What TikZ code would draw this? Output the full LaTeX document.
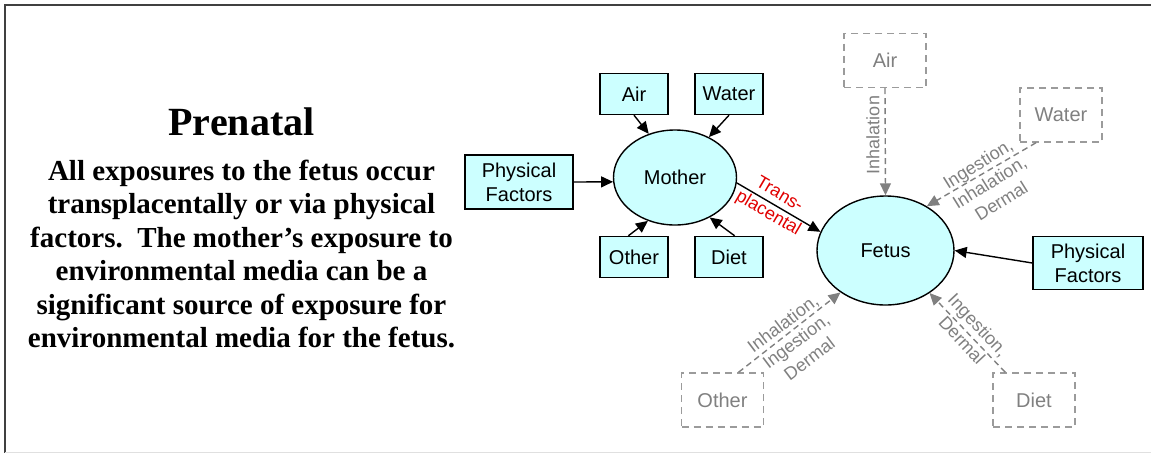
\documentclass[tikz,border=0pt]{standalone}
\usepackage{fontspec}
\setmainfont{Liberation Serif}
\newfontfamily\arialfont{Liberation Sans}
\usetikzlibrary{arrows.meta,shapes.geometric}
\definecolor{boxcyan}{RGB}{204,255,255}
\definecolor{dashgray}{RGB}{155,155,155}
\definecolor{labelgray}{RGB}{128,128,128}
\definecolor{placred}{RGB}{225,0,0}
\begin{document}
\begin{tikzpicture}
  [x=1pt,y=-1pt,line width=1.4pt,every node/.style={font=\arialfont\fontsize{20}{24}\selectfont}]
  \tikzstyle{media} = [draw,fill=boxcyan,minimum width=68pt,minimum height=41pt,inner sep=1pt,align=center]
  \tikzstyle{person} = [draw,ellipse,fill=boxcyan,inner sep=0pt]
  \tikzstyle{faded} = [draw=dashgray,text=labelgray,dash pattern=on 7pt off 5pt,minimum width=82pt,minimum height=54pt]
  \tikzstyle{route} = [text=labelgray,font=\arialfont\fontsize{18}{22}\selectfont,align=center,inner sep=0pt]
  \tikzstyle{feeds} = [-{Triangle[length=12pt,width=11pt]}]
  \tikzstyle{hint} = [draw=labelgray,dash pattern=on 6pt off 4pt,-{Triangle[length=12pt,width=11pt]},labelgray]
  \useasboundingbox (0,0) rectangle (1151,453);
  \draw[line width=2pt,black!75] (1151,5) -- (5,5) -- (5,453);
  \draw[line width=1pt,black!12] (5,452) -- (1151,452);
  % text block
  \node (t1) [font=\rmfamily\bfseries\fontsize{40}{44}\selectfont] at (241.5,122) {Prenatal};
  \node (t2) [align=center,font=\rmfamily\bfseries\fontsize{29}{33.4}\selectfont] at (241.5,254) {%
    All exposures to the fetus occur\\ transplacentally or via physical\\ factors.\ \ The mother’s exposure to\\
    environmental media can be a\\ significant source of exposure for\\ environmental media for the fetus.};
  % mother
  \node[person,minimum width=123pt,minimum height=95pt] (n1) at (675,177.5) {Mother};
  \node[media] (n2) at (634,94)  {Air};
  \node[media] (n3) at (729,94)  {Water};
  \node[media,minimum width=108pt,minimum height=54pt] (n4) at (519,182) {Physical\\Factors};
  \node[media] (n5) at (634,257) {Other};
  \node[media] (n6) at (729,257) {Diet};
  % fetus
  \node[person,minimum width=137pt,minimum height=109pt] (n7) at (885.5,250.5) {Fetus};
  \node[media,minimum width=110pt,minimum height=53pt] (n8) at (1088,263) {Physical\\Factors};
  \node[faded] (n9)  at (885,60.5) {Air};
  \node[faded] (n10) at (1061,115) {Water};
  \node[faded] (n11) at (722.5,400) {Other};
  \node[faded] (n12) at (1034,400) {Diet};
\foreach \source /\dest in {n2.south/n1.121,n3.south/n1.50,n4.east/n1.184,n5.105/n1.238,n6.75/n1.311,n8.west/n7.east}
   \draw[feeds] (\source) -- (\dest);
  \draw[feeds] (n1.-5) -- node[pos=.44,sloped,inner sep=0pt,text=placred,font=\arialfont\fontsize{18}{22}\selectfont,align=center] (l0) {Trans-\\placental} (n7.164);
\foreach \source /\dest in {n9.south/n7.north,n10.-132/n7.47,n11.60/n7.223,n12.136/n7.-44}
   \draw[hint] (\source) -- (\dest);
  \node[route,rotate=90] (l1) at (873,135) {Inhalation};
  \node[route,rotate=32] (l2) at (989.5,182.3) {Ingestion,\\Inhalation,\\Dermal};
  \node[route,rotate=37] (l3) at (796,341) {Inhalation,\\Ingestion,\\Dermal};
  \node[route,rotate=-47] (l4) at (970.2,332.5) {Ingestion,\\Dermal};
\end{tikzpicture}
\end{document}
